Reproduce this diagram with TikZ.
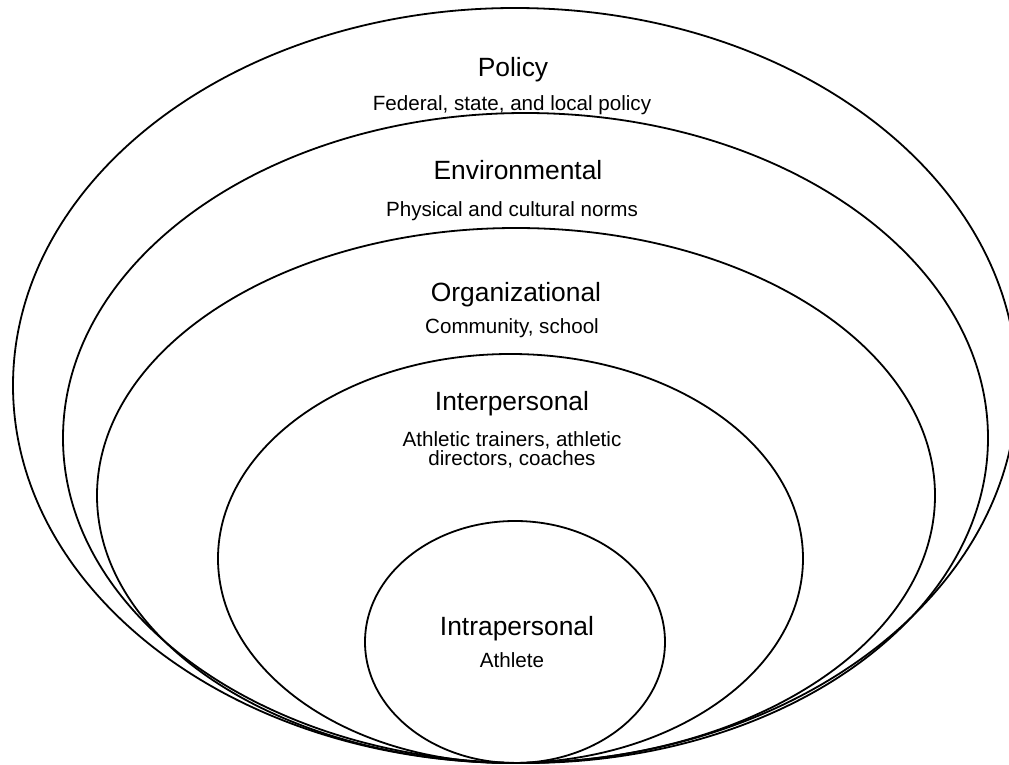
\documentclass[tikz,border=0pt]{standalone}
\usepackage{fontspec}
\setsansfont{Liberation Sans}
\usepackage{tikz}

\begin{document}
\begin{tikzpicture}
    [x=0.5pt,y=-0.5pt, line width=0.9pt,
     every node/.style={anchor=base, inner sep=0pt, font=\sffamily},
     level/.style={font=\sffamily\fontsize{13.2}{15}\selectfont},
     detail/.style={font=\sffamily\fontsize{10.3}{12.5}\selectfont}]
    \useasboundingbox (0,0) rectangle (1009,765);
    % nested spheres, all touching at the bottom
    \draw (515,385.5) ellipse [x radius=251pt, y radius=188.75pt];
    \draw (525.5,438) ellipse [x radius=231.25pt, y radius=162.5pt];
    \draw (516,495.5) ellipse [x radius=209.5pt, y radius=133.75pt];
    \draw (510.5,558.5) ellipse [x radius=146.25pt, y radius=102.25pt];
    \draw (515,642) ellipse [x radius=75pt, y radius=60.5pt];
    % labels
    \node[level] (pol) at (513, 77) {Policy};
    \node[detail] (polsub) at (512, 111) {Federal, state, and local policy};
    \node[level] (env) at (518, 180) {Environmental};
    \node[detail] (envsub) at (512, 217) {Physical and cultural norms};
    \node[level] (org) at (516, 302) {Organizational};
    \node[detail] (orgsub) at (512, 334) {Community, school};
    \node[level] (inter) at (512, 411) {Interpersonal};
    \node[detail] (intersub) at (512, 446) {Athletic trainers, athletic};
    \node[detail] (intersub2) at (512, 466) {directors, coaches};
    \node[level] (intra) at (517, 635) {Intrapersonal};
    \node[detail] (intrasub) at (512, 668) {Athlete};
  \end{tikzpicture}
\end{document}
